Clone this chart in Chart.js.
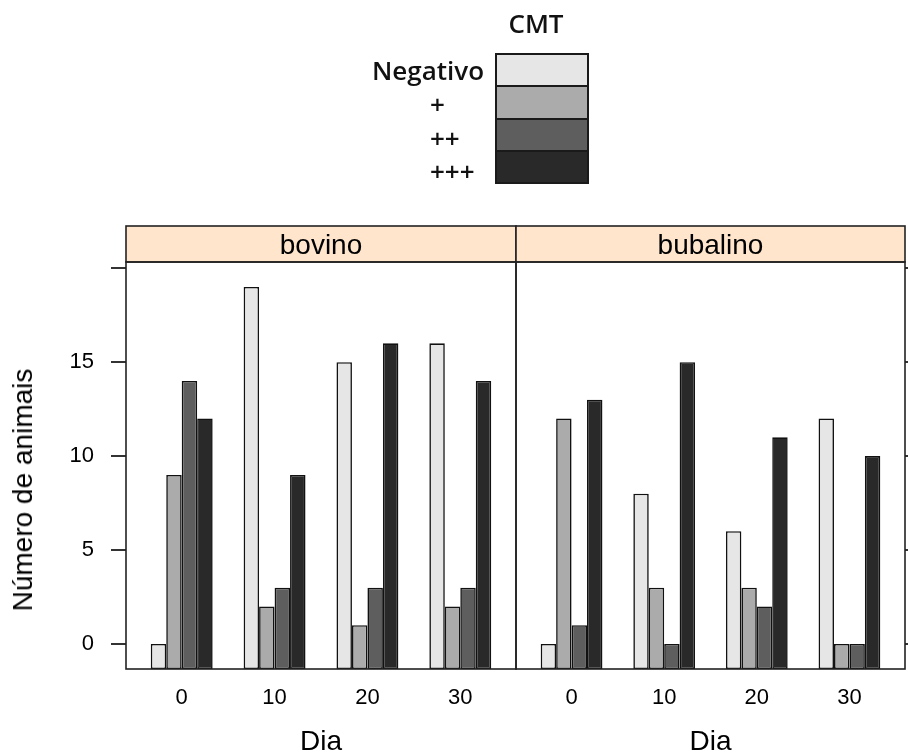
<!DOCTYPE html>
<html><head><meta charset="utf-8">
<script src="https://cdn.jsdelivr.net/npm/chart.js@4.4.1/dist/chart.umd.min.js"></script>
<style>
html,body{margin:0;padding:0;background:#fff;}
#wrap{position:relative;width:908px;height:753px;overflow:hidden;background:#fff;}
#wrap canvas{position:absolute;left:0;top:0;}
.ylab{position:absolute;left:23px;top:490px;transform:translate(-50%,-50%) rotate(-90deg);font:28px 'Liberation Sans',Arial,sans-serif;color:#000;white-space:nowrap;}
.legtitle{position:absolute;font:600 26px 'Open Sans',sans-serif;color:#111;white-space:nowrap;transform:translate(-50%,-50%);}
.legbox{position:absolute;box-sizing:border-box;border:2px solid #1a1a1a;}
.leglab{position:absolute;font:600 26px 'Open Sans',sans-serif;color:#111;white-space:nowrap;transform:translateY(-50%);}
</style></head>
<body><div id="wrap">
<canvas id="c1" width="908" height="753"></canvas>
<canvas id="c2" width="908" height="753"></canvas>
<div id="legend"></div>
<div class="ylab" id="ylab"></div>
</div>
<script>
// ---- data ----
const days = ['0', '10', '20', '30'];
const panels = ['bovino', 'bubalino'];
const levels = ['Negativo', '+', '++', '+++'];
const legendTitle = 'CMT';
const xTitle = 'Dia';
const yTitle = 'Número de animais';
const bovinoNegativo = [0, 19, 15, 16];
const bovinoPlus1    = [9, 2, 1, 2];
const bovinoPlus2    = [14, 3, 3, 3];
const bovinoPlus3    = [12, 9, 16, 14];
const bubalinoNegativo = [0, 8, 6, 12];
const bubalinoPlus1    = [12, 3, 3, 0];
const bubalinoPlus2    = [1, 0, 2, 0];
const bubalinoPlus3    = [13, 15, 11, 10];
const yTicks = [0, 5, 10, 15, 20];
const yTickLabels = ['0', '5', '10', '15', ''];
const colors = ['#E6E6E6', '#ABABAB', '#5E5E5E', '#292929'];

// ---- scale limits (lattice style) ----
const allVals = [].concat(bovinoNegativo, bovinoPlus1, bovinoPlus2, bovinoPlus3,
  bubalinoNegativo, bubalinoPlus1, bubalinoPlus2, bubalinoPlus3);
const vHi = Math.max(...allVals), vLo = Math.min(...allVals);
const ext = 0.07 * (vHi - vLo);
const yMin = vLo - ext, yMax = vHi + ext;
const xMin = 0.4, xMax = days.length + 0.6;

const FONT = "'Liberation Sans', Arial, sans-serif";
Chart.defaults.font.family = FONT;
Chart.defaults.color = '#000';

const panelFrame = {
  id: 'panelFrame',
  beforeDraw(chart) {
    const t = chart.titleBlock, a = chart.chartArea, ctx = chart.ctx;
    ctx.save();
    ctx.fillStyle = '#FFE5CC';
    ctx.fillRect(a.left, t.top, a.right - a.left, t.bottom - t.top);
    ctx.restore();
  },
  afterDraw(chart) {
    const t = chart.titleBlock, a = chart.chartArea, ctx = chart.ctx;
    ctx.save();
    ctx.strokeStyle = '#222';
    ctx.lineWidth = 1.6;
    ctx.strokeRect(a.left, t.top, a.right - a.left, t.bottom - t.top);
    ctx.strokeRect(a.left, a.top, a.right - a.left, a.bottom - a.top);
    ctx.restore();
  }
};

function makePanel(id, name, series, isLeft) {
  return new Chart(document.getElementById(id), {
    type: 'bar',
    data: {
      datasets: levels.map((lv, k) => ({
        label: lv,
        data: series[k].map((v, i) => ({ x: i + 1, y: v })),
        backgroundColor: colors[k],
        borderColor: '#111',
        borderWidth: 1.6,
        borderSkipped: false,
        inflateAmount: 0,
        base: yMin,
        categoryPercentage: 2 / 3,
        barPercentage: 1
      }))
    },
    options: {
      responsive: false,
      animation: false,
      devicePixelRatio: 1,
      layout: { padding: { top: 226, bottom: 0, left: isLeft ? 0 : 516, right: isLeft ? 392 : 0 } },
      plugins: {
        legend: { display: false },
        tooltip: { enabled: false },
        title: {
          display: true, text: name, position: 'top', fullSize: false,
          padding: { top: 2, bottom: -2 }, color: '#000',
          font: { family: FONT, size: 28, weight: 'normal', lineHeight: 36 / 28 }
        }
      },
      scales: {
        x: {
          type: 'linear', min: xMin, max: xMax, bounds: 'data', offset: false,
          grid: { display: false, drawTicks: false },
          border: { display: false },
          afterBuildTicks: s => { s.ticks = days.map((d, i) => ({ value: i + 1 })); },
          afterFit: s => { s.height = 84; },
          ticks: { autoSkip: false, maxRotation: 0, minRotation: 0, padding: 16, color: '#000',
            font: { size: 22 }, callback: (v, i) => days[i] },
          title: { display: true, text: xTitle, color: '#000',
            font: { size: 28, lineHeight: 1 }, padding: { top: 0, bottom: -3 } }
        },
        y: {
          type: 'linear', position: isLeft ? 'left' : 'right', min: yMin, max: yMax, bounds: 'data',
          grid: { display: true, drawOnChartArea: false, drawTicks: true, tickLength: 15, color: '#333', lineWidth: 2 },
          border: { display: false },
          afterBuildTicks: s => { s.ticks = yTicks.map(v => ({ value: v })); },
          afterFit: s => { s.width = isLeft ? 126 : 3; },
          ticks: { display: isLeft, padding: 17, color: '#000', font: { size: 22 },
            callback: (v, i) => yTickLabels[i] }
        }
      }
    },
    plugins: [panelFrame]
  });
}

makePanel('c1', panels[0], [bovinoNegativo, bovinoPlus1, bovinoPlus2, bovinoPlus3], true);
makePanel('c2', panels[1], [bubalinoNegativo, bubalinoPlus1, bubalinoPlus2, bubalinoPlus3], false);

// ---- legend (key) ----
document.getElementById('ylab').textContent = yTitle;
const leg = document.getElementById('legend');
const tt = document.createElement('div');
tt.className = 'legtitle'; tt.textContent = legendTitle;
tt.style.left = '536px'; tt.style.top = '23px';
leg.appendChild(tt);
levels.forEach((lv, i) => {
  const b = document.createElement('div');
  b.className = 'legbox';
  b.style.left = '495px'; b.style.width = '94px';
  b.style.top = (53 + i * 32.3) + 'px'; b.style.height = '34.3px';
  b.style.background = colors[i];
  leg.appendChild(b);
  const l = document.createElement('div');
  l.className = 'leglab'; l.textContent = lv;
  l.style.top = (70 + i * 33.8) + 'px';
  leg.appendChild(l);
  if (l.offsetWidth > 53) { l.style.right = (908 - 484) + 'px'; }
  else { l.style.left = '430px'; }
});
</script>
</body></html>
